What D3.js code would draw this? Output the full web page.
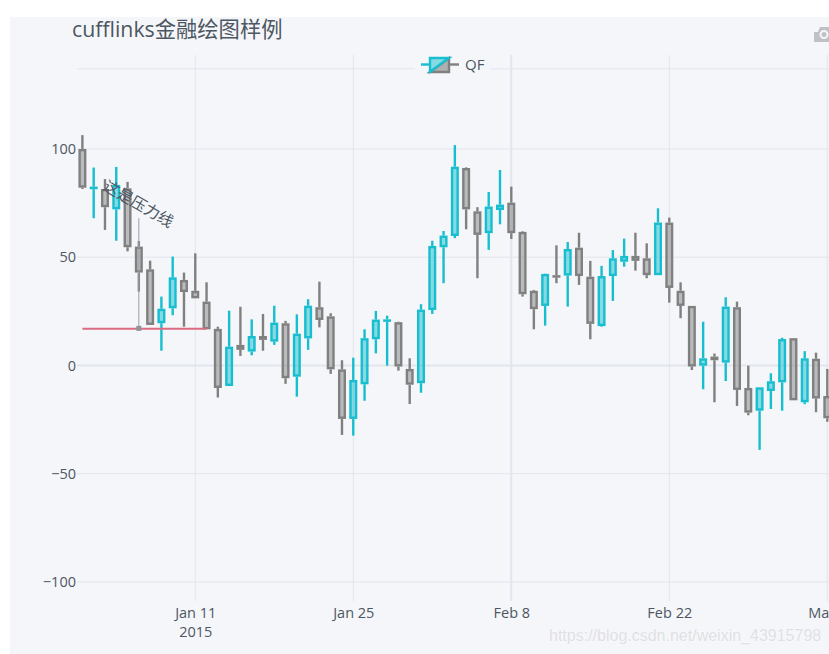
<!DOCTYPE html>
<html>
<head>
<meta charset="utf-8">
<script src="https://cdn.jsdelivr.net/npm/d3@7"></script>
<style>
  html, body { margin: 0; padding: 0; background: #fff; overflow: hidden; }
  text { font-family: "Open Sans", "Noto Sans CJK SC", sans-serif; fill: #4D5663; }
</style>
</head>
<body>
<div id="chart"></div>
<script>
const dates = [
  "2015-01-01","2015-01-02","2015-01-03","2015-01-04","2015-01-05","2015-01-06","2015-01-07","2015-01-08","2015-01-09","2015-01-10",
  "2015-01-11","2015-01-12","2015-01-13","2015-01-14","2015-01-15","2015-01-16","2015-01-17","2015-01-18","2015-01-19","2015-01-20",
  "2015-01-21","2015-01-22","2015-01-23","2015-01-24","2015-01-25","2015-01-26","2015-01-27","2015-01-28","2015-01-29","2015-01-30",
  "2015-01-31","2015-02-01","2015-02-02","2015-02-03","2015-02-04","2015-02-05","2015-02-06","2015-02-07","2015-02-08","2015-02-09",
  "2015-02-10","2015-02-11","2015-02-12","2015-02-13","2015-02-14","2015-02-15","2015-02-16","2015-02-17","2015-02-18","2015-02-19",
  "2015-02-20","2015-02-21","2015-02-22","2015-02-23","2015-02-24","2015-02-25","2015-02-26","2015-02-27","2015-02-28","2015-03-01",
  "2015-03-02","2015-03-03","2015-03-04","2015-03-05","2015-03-06","2015-03-07","2015-03-08"
];
const open = [100,81.4,81.5,72.1,81.8,54.9,44.4,19.5,26.4,39.5,34.5,29.5,16.9,-9.5,9.5,6.4,13.6,11,19.5,-5.2,12.5,26.9,22.7,-1.8,-24.7,-8.7,12.1,20.2,20,-1.6,-8.2,25.6,54.6,59.8,91.2,71.2,61.1,71.8,75.2,61.7,34.5,27.5,41.7,41.5,54.4,41,18.2,41.3,47.9,50.6,49.5,41.7,66,34.5,27.5,-0.1,4.1,1.3,26.9,-10.4,-20.9,-11.8,-7.8,12.6,-17,3.1,-14.1];
const high = [106.4,91.4,86.1,91.7,84.8,57.5,48.4,31.8,50.3,42.9,51.8,38.4,17.9,25.3,27.1,21.3,23.8,27.6,20.6,23.6,30.6,38.7,24.1,2.4,3.6,16.7,25.2,23,20.2,3.3,28.3,57.6,62.1,101.8,91.5,73.1,80.1,90.3,82.6,62,34.9,42.4,55.5,57,61.3,48.3,46,53.3,58.6,61.3,56.4,72.6,68.3,38.4,27.5,20.2,5.5,31.5,29.5,-0.1,-10.1,-3.6,12.8,12.6,6.6,5.9,-1.6];
const low = [81.5,68,62.6,57.6,52.7,34.1,18.7,6.8,23.2,17.9,31,16.7,-14.8,-9.5,4.4,4.7,6.8,9.5,-8.5,-14.4,7.2,17.6,-3.9,-32.1,-32.4,-16.3,5.6,-0.1,-2.4,-17.8,-12.6,23.8,38,58.8,62.9,40.3,53.4,65.2,58.4,31.8,16.7,18.4,38,27.2,37.2,12.1,17.9,29.8,45.6,43.8,40.3,41.7,29,21.8,-2.1,-11,-17,-7.2,-18.7,-23,-39,-20.1,-20.9,-16.1,-17.9,-21.6,-26];
const close = [82.1,82.6,73.1,83.4,54.6,42.9,18.7,26.2,40.7,33.9,31,16.7,-10.4,8.7,7.2,13.6,11.8,19.8,-5.9,14.7,27.6,21,-1.8,-24.7,-6.7,12.6,21.2,21.3,-0.5,-8.9,25.8,55.2,60,91.8,72.1,60.3,73.4,74.3,61.1,32.9,26,42.3,40.7,53.8,41.3,19.2,41.3,49.5,50.6,48.3,41.7,66,35.8,27.5,-0.5,3.3,2.4,27.2,-11.3,-21.8,-10.1,-7.3,12.2,-16.1,3.3,-15.3,-24.4];

const yTicks = [-100, -50, 0, 50, 100];
const xTicks = ["2015-01-11", "2015-01-25", "2015-02-08", "2015-02-22", "2015-03-08"];
const xTickLabels = ["Jan 11", "Jan 25", "Feb 8", "Feb 22", "Mar 8"];
const extraGridValue = 137;
const resistance = { start: "2015-01-01", end: "2015-01-12", value: 16.9 };
const arrowDate = "2015-01-06";
const arrowFrom = 68;
const traceName = "QF";

const width = 829;
const height = 654;
const margin = { top: 55, right: 2, bottom: 53, left: 77 };
const up = "#17BECF";
const down = "#808080";
const grid = "#E1E5ED";

const parse = d3.utcParse("%Y-%m-%d");

const svg = d3.select("#chart").append("svg")
  .attr("width", width)
  .attr("height", height)
  .style("display", "block");

// page background starts a little inside the white screenshot edge
svg.append("rect")
  .attr("x", 10).attr("y", 17)
  .attr("width", width - 10).attr("height", height - 17)
  .attr("fill", "#F5F6F9");

const x = d3.scaleUtc()
  .domain([parse(dates[0]), parse(dates[dates.length - 1])])
  .range([82.4, 827.3]);

const y = d3.scaleLinear()
  .domain([-108.8, 143.4])
  .range([height - margin.bottom, margin.top]);

// grid lines
const yGrid = svg.append("g");
yGrid.selectAll("line")
  .data(yTicks.concat([extraGridValue]))
  .enter().append("line")
  .attr("x1", margin.left)
  .attr("x2", width)
  .attr("y1", d => y(d))
  .attr("y2", d => y(d))
  .attr("stroke", grid)
  .attr("stroke-width", d => d === 0 ? 2 : 1);

const xGrid = svg.append("g");
xGrid.selectAll("line")
  .data(xTicks)
  .enter().append("line")
  .attr("x1", d => x(parse(d)))
  .attr("x2", d => x(parse(d)))
  .attr("y1", margin.top)
  .attr("y2", height - margin.bottom)
  .attr("stroke", grid)
  .attr("stroke-width", d => d === "2015-02-08" ? 2 : 1);

// axes, only the labels are visible
const yAxis = svg.append("g")
  .attr("transform", `translate(${margin.left},0)`)
  .call(d3.axisLeft(y).tickValues(yTicks).tickSize(0).tickPadding(1)
    .tickFormat(d => d3.format("")(d).replace("-", "\u2212")));
yAxis.select(".domain").remove();
yAxis.selectAll("text").style("font-size", "14.5px").style("font-family", null);

const xAxis = svg.append("g")
  .attr("transform", `translate(0,${height - margin.bottom})`)
  .call(d3.axisBottom(x).tickValues(xTicks.map(parse)).tickSize(0).tickPadding(7)
    .tickFormat((d, i) => xTickLabels[i]));
xAxis.select(".domain").remove();
xAxis.selectAll("text").style("font-size", "14.5px").style("font-family", null);
xAxis.select(".tick text").append("tspan")
  .attr("x", 0)
  .attr("dy", "1.3em")
  .text("2015");

// candles, the wicks stop at the body so its fill stays clean
const candles = svg.append("g").selectAll("g")
  .data(dates)
  .enter().append("g")
  .attr("transform", d => `translate(${x(parse(d))},0)`);

const colorOf = i => close[i] >= open[i] ? up : down;
const bodyTop = i => y(Math.max(open[i], close[i]));
const bodyBottom = i => y(Math.min(open[i], close[i]));

candles.append("line")
  .attr("y1", (d, i) => y(high[i]))
  .attr("y2", (d, i) => bodyTop(i))
  .attr("stroke", (d, i) => colorOf(i))
  .attr("stroke-width", 2.4);

candles.append("line")
  .attr("y1", (d, i) => bodyBottom(i))
  .attr("y2", (d, i) => y(low[i]))
  .attr("stroke", (d, i) => colorOf(i))
  .attr("stroke-width", 2.4);

// a zero height rect gets no stroke, so keep a sliver for the flat candles
candles.append("rect")
  .attr("x", -2.8)
  .attr("width", 5.6)
  .attr("y", (d, i) => bodyTop(i) + 1.2)
  .attr("height", (d, i) => Math.max(bodyBottom(i) - bodyTop(i) - 2.4, 0.1))
  .attr("fill", (d, i) => d3.color(colorOf(i)).copy({ opacity: 0.5 }))
  .attr("stroke", (d, i) => colorOf(i))
  .attr("stroke-width", 2.4);

// resistance line
svg.append("line")
  .attr("x1", x(parse(resistance.start)))
  .attr("x2", x(parse(resistance.end)))
  .attr("y1", y(resistance.value))
  .attr("y2", y(resistance.value))
  .attr("stroke", "#DB6B80")
  .attr("stroke-width", 2);

// annotation with its square arrow head
const arrowX = x(parse(arrowDate));
svg.append("line")
  .attr("x1", arrowX).attr("x2", arrowX)
  .attr("y1", y(arrowFrom)).attr("y2", y(resistance.value))
  .attr("stroke", "#9A9EA6")
  .attr("stroke-width", 1);
svg.append("rect")
  .attr("x", arrowX - 2.5).attr("y", y(resistance.value) - 3)
  .attr("width", 5).attr("height", 5)
  .attr("fill", "#8E9299");
svg.append("text")
  .attr("transform", `translate(138,205) rotate(30)`)
  .attr("text-anchor", "middle")
  .attr("dominant-baseline", "middle")
  .style("font-size", "15.5px")
  .text("这是压力线");

// legend sits on top of the upper grid line
const legend = svg.append("g");
legend.append("rect")
  .attr("x", 415).attr("y", 56)
  .attr("width", 76).attr("height", 22)
  .attr("fill", "#F5F6F9");
legend.append("line")
  .attr("x1", 421).attr("x2", 430).attr("y1", 64.5).attr("y2", 64.5)
  .attr("stroke", up).attr("stroke-width", 2.4);
legend.append("line")
  .attr("x1", 449).attr("x2", 459).attr("y1", 64.5).attr("y2", 64.5)
  .attr("stroke", down).attr("stroke-width", 2.4);
legend.append("path")
  .attr("d", "M430,72 L449,58 L449,72 Z")
  .attr("fill", d3.color(down).copy({ opacity: 0.6 }))
  .attr("stroke", down).attr("stroke-width", 2.4);
legend.append("path")
  .attr("d", "M430,72 L430,58 L449,58 Z")
  .attr("fill", d3.color(up).copy({ opacity: 0.5 }))
  .attr("stroke", up).attr("stroke-width", 2.4);
legend.append("text")
  .attr("x", 465).attr("y", 70)
  .style("font-size", "15px")
  .text(traceName);

// title
svg.append("text")
  .attr("x", 72).attr("y", 37)
  .style("font-size", "21.3px")
  .text("cufflinks金融绘图样例");

// camera button of the modebar, cut by the window edge
svg.append("path")
  .attr("d", "M814,32 L818,32 L820,27 L829,27 L829,42 L814,42 Z")
  .attr("fill", "#BFC1C5");
svg.append("circle")
  .attr("cx", 824).attr("cy", 34.5).attr("r", 3.5)
  .attr("fill", "none")
  .attr("stroke", "#F5F6F9")
  .attr("stroke-width", 2);

// watermark
svg.append("text")
  .attr("x", 549).attr("y", 641)
  .style("font-family", "'Liberation Sans', sans-serif")
  .style("font-size", "16px")
  .style("fill", "#DEE0E4")
  .style("paint-order", "stroke")
  .style("stroke", "#FBFBFC")
  .style("stroke-width", "1px")
  .text("https://blog.csdn.net/weixin_43915798");
</script>
</body>
</html>
